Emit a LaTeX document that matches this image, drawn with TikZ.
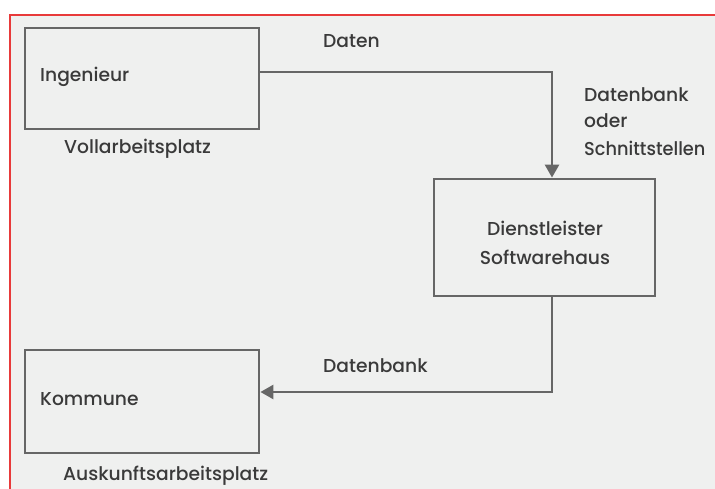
\documentclass[tikz,border=0pt]{standalone}
\usepackage{fontspec}
\setmainfont{Poppins}[UprightFont={* Medium}]
\usetikzlibrary{arrows.meta}
\definecolor{bg}{HTML}{EFF0EF}
\definecolor{lineg}{HTML}{666666}
\definecolor{txt}{HTML}{3A3A3A}
\definecolor{frame}{HTML}{E83A3A}
\begin{document}
\begin{tikzpicture}[x=1pt,y=-1pt,
  box/.style={draw=lineg,line width=2.8pt,fill=none,rectangle,inner sep=0pt},
  lbl/.style={text=txt,font=\fontsize{18.7}{27}\selectfont,inner sep=0pt},
  conn/.style={draw=lineg,line width=2.6pt,-{Triangle[width=14pt,length=13pt]}}]
\useasboundingbox (0,0) rectangle (715,489);
\fill[white] (0,0) rectangle (715,489);
\fill[bg] (10,16) rectangle (715,489);
\draw[frame,line width=2pt] (10,489) -- (10,15) -- (715,15);
% boxes
\node[box,minimum width=234pt,minimum height=101pt] (ing) at (142,78.5) {};
\node[box,minimum width=221pt,minimum height=117pt] (dl) at (544.5,237.5) {};
\node[box,minimum width=234pt,minimum height=103pt] (kom) at (142,401.5) {};
% texts
\node[lbl,anchor=base west] (ingt) at (40,82) {Ingenieur};
\node[lbl,anchor=base west] (komt) at (40,405) {Kommune};
\node[lbl,anchor=base] (dlt1) at (545,236) {Dienstleister};
\node[lbl,anchor=base] (dlt2) at (545,265) {Softwarehaus};
\node[lbl,anchor=base west] (voll) at (64,154) {Vollarbeitsplatz};
\node[lbl,anchor=base west] (ausk) at (63,480) {Auskunftsarbeitsplatz};
\node[lbl,anchor=base west] (daten) at (323,48) {Daten};
\node[lbl,anchor=base west] (db) at (323,372) {Datenbank};
\node[lbl,anchor=base west] (dbs1) at (584,102) {Datenbank};
\node[lbl,anchor=base west] (dbs2) at (584,128) {oder};
\node[lbl,anchor=base west,xscale=0.95] (dbs3) at (584,156) {Schnittstellen};
% connectors
\coordinate (c1) at (552,72);
\coordinate (c2) at (552,392);
\draw[conn] (ing.east |- c1) -- (c1) -- (c1 |- dl.north);
\draw[conn] (c2 |- dl.south) -- (c2) -- (kom.east |- c2);
\end{tikzpicture}
\end{document}
